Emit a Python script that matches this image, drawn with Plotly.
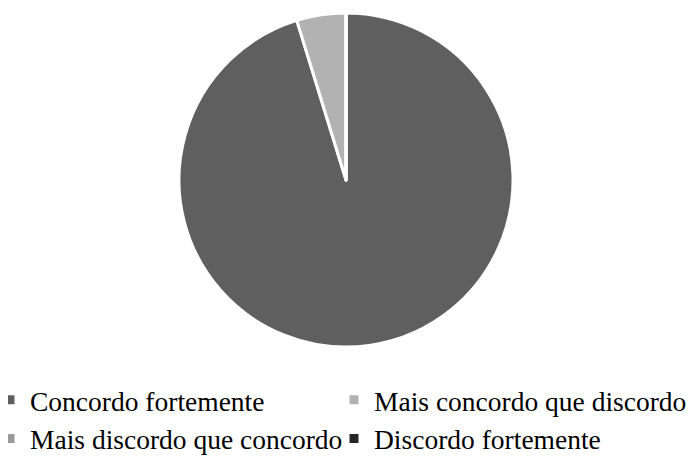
import plotly.graph_objects as go

labels = ["Concordo fortemente", "Mais concordo que discordo",
          "Mais discordo que concordo", "Discordo fortemente"]
values = [20, 1, 0, 0]
colors = ["#5f5f5f", "#b2b2b2", "#999999", "#262626"]

# page body has an 8px margin; figure coordinates = screen - 8
W, H = 702, 454
MB = 109  # bottom margin (legend lives below plot area)
PH = H - MB

fig = go.Figure(go.Pie(
    labels=labels,
    values=values,
    sort=False,
    direction="clockwise",
    rotation=0,
    textinfo="none",
    hoverinfo="label+percent",
    marker=dict(colors=colors, line=dict(color="white", width=3)),
    domain=dict(x=[0, 676 / W], y=[(PH - 339) / PH, (PH - 5) / PH]),
))

# blank (non-breaking-space) legend title only widens the legend box so the
# second column's text is not clipped
spacer = "\u00a0" * 360

fig.update_layout(
    width=W, height=H,
    margin=dict(l=0, r=0, t=0, b=MB, autoexpand=False),
    paper_bgcolor="white",
    plot_bgcolor="white",
    font=dict(family="Liberation Serif, Times New Roman, serif", size=27.5, color="#000000"),
    showlegend=True,
    legend=dict(
        orientation="h",
        x=-18 / W, xanchor="left",
        y=-(357 - PH) / PH, yanchor="top",
        entrywidth=299, entrywidthmode="pixels",
        bgcolor="rgba(0,0,0,0)",
        font=dict(size=27.5),
        title=dict(text=spacer, side="top", font=dict(size=8, color="rgba(0,0,0,0)")),
    ),
)

fig.write_html("out.html")
